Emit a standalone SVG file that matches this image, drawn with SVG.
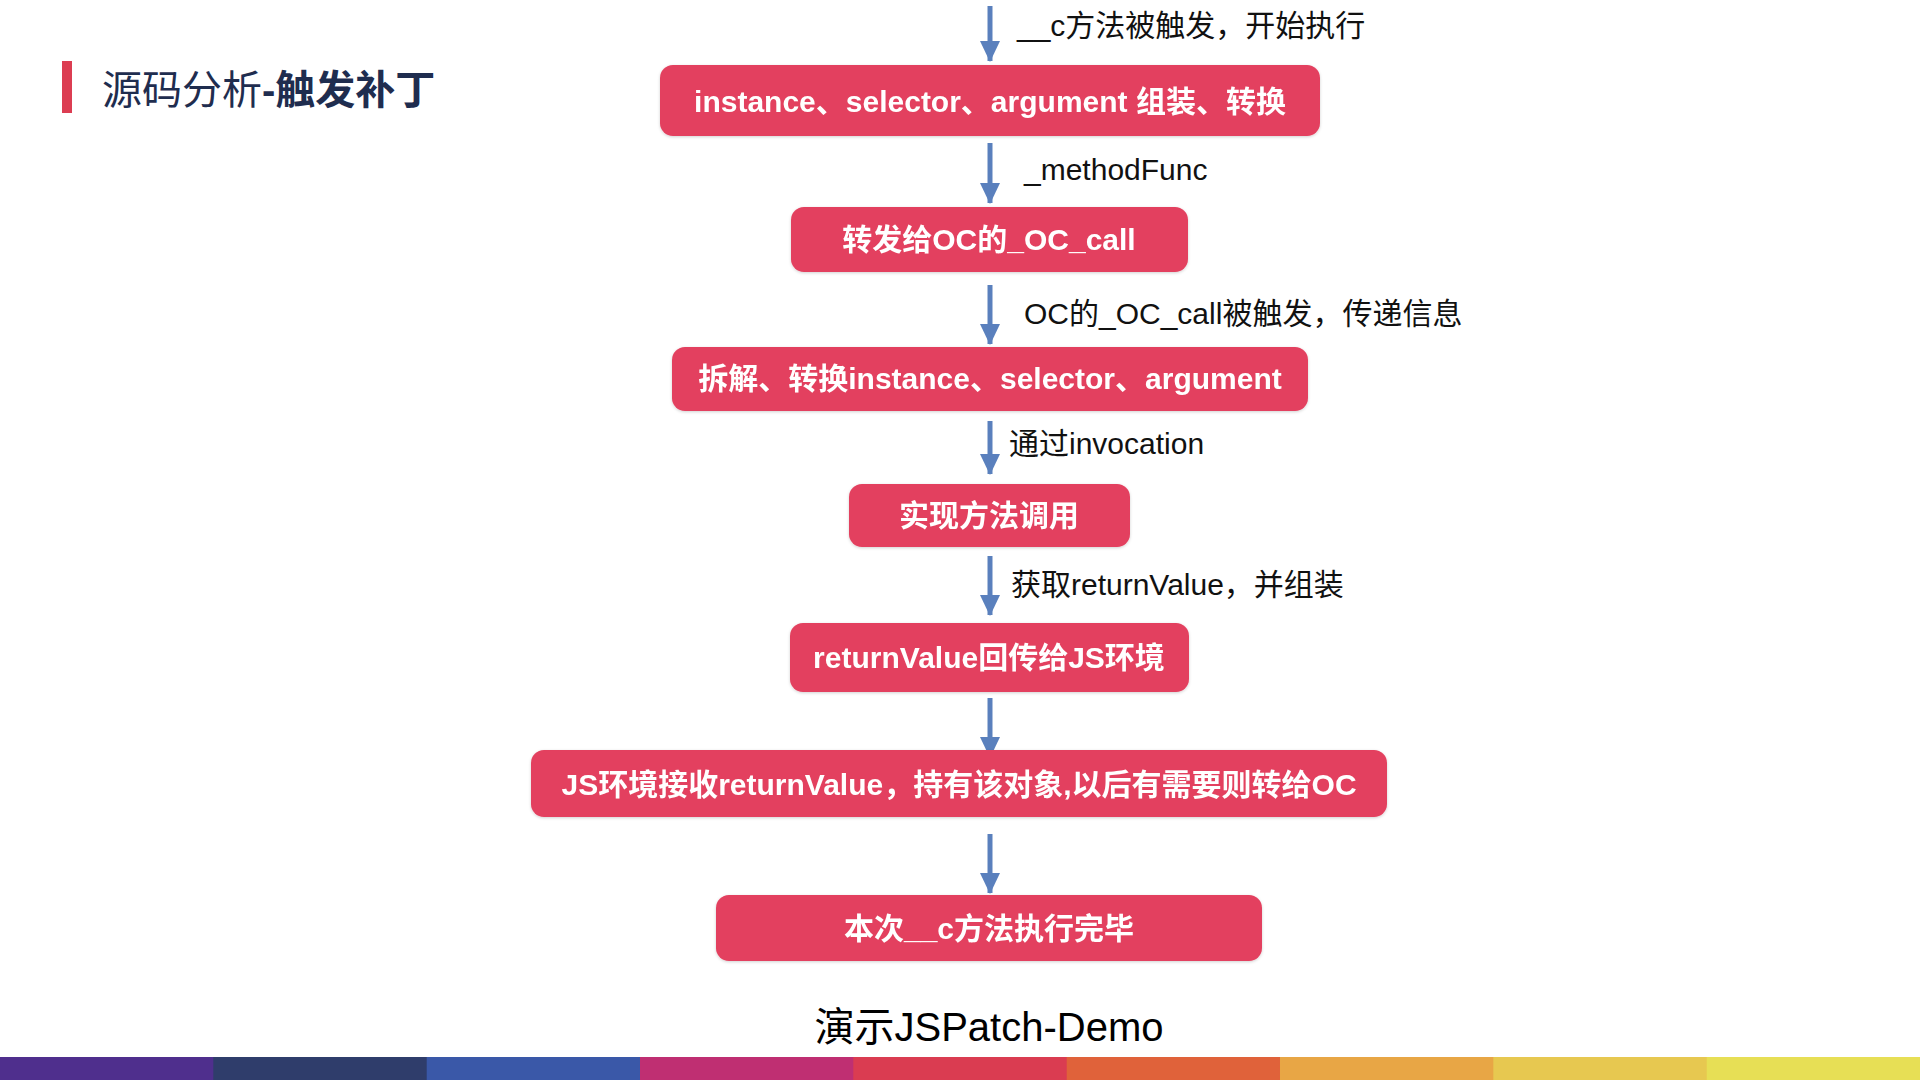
<svg xmlns="http://www.w3.org/2000/svg" width="1920" height="1080" viewBox="0 0 1920 1080">
<defs>
<style>
.box{fill:#e3405e;}
.bt{font-family:"Liberation Sans","Noto Sans CJK SC",sans-serif;font-weight:bold;font-size:30px;fill:#ffffff;text-anchor:middle;}
.lbl{font-family:"Liberation Sans","Noto Sans CJK SC",sans-serif;font-size:30px;fill:#111111;}
.conn line{stroke:#5a80bd;stroke-width:5;}
</style>
<marker id="ah2" markerUnits="userSpaceOnUse" markerWidth="21" markerHeight="20" refX="20" refY="10" orient="auto" viewBox="0 0 21 20">
<path d="M0,0 L21,10 L0,20 Z" fill="#5a80bd"/>
</marker>
<filter id="sh" x="-5%" y="-20%" width="110%" height="140%">
<feDropShadow dx="0" dy="1" stdDeviation="1.5" flood-color="#000" flood-opacity="0.18"/>
</filter>
</defs>
<rect width="1920" height="1080" fill="#ffffff"/>

<g id="title">
<rect x="62" y="61" width="10" height="52" fill="#dc3d52"/>
<text x="102" y="104" font-family="Liberation Sans,'Noto Sans CJK SC',sans-serif" font-size="40" fill="#1f2d4f">源码分析<tspan font-weight="bold">-触发补丁</tspan></text>
</g>

<g id="connectors" class="conn">
<line x1="990" y1="6" x2="990" y2="61" marker-end="url(#ah2)"/>
<line x1="990" y1="143" x2="990" y2="203" marker-end="url(#ah2)"/>
<line x1="990" y1="285" x2="990" y2="344" marker-end="url(#ah2)"/>
<line x1="990" y1="421" x2="990" y2="474" marker-end="url(#ah2)"/>
<line x1="990" y1="556" x2="990" y2="615" marker-end="url(#ah2)"/>
<line x1="990" y1="698" x2="990" y2="757" marker-end="url(#ah2)"/>
<line x1="990" y1="834" x2="990" y2="893" marker-end="url(#ah2)"/>
</g>

<g id="labels">
<text class="lbl" x="1017" y="36">__c方法被触发，开始执行</text>
<text class="lbl" x="1024" y="180">_methodFunc</text>
<text class="lbl" x="1024" y="324">OC的_OC_call被触发，传递信息</text>
<text class="lbl" x="1009" y="454">通过invocation</text>
<text class="lbl" x="1011" y="595">获取returnValue，并组装</text>
</g>

<g id="n1" filter="url(#sh)">
<rect class="box" x="660" y="65" width="660" height="71" rx="13"/>
<text class="bt" x="990" y="112">instance、selector、argument 组装、转换</text>
</g>
<g id="n2" filter="url(#sh)">
<rect class="box" x="791" y="207" width="397" height="65" rx="13"/>
<text class="bt" x="989" y="250">转发给OC的_OC_call</text>
</g>
<g id="n3" filter="url(#sh)">
<rect class="box" x="672" y="347" width="636" height="64" rx="13"/>
<text class="bt" x="990" y="389">拆解、转换instance、selector、argument</text>
</g>
<g id="n4" filter="url(#sh)">
<rect class="box" x="849" y="484" width="281" height="63" rx="13"/>
<text class="bt" x="989" y="526">实现方法调用</text>
</g>
<g id="n5" filter="url(#sh)">
<rect class="box" x="790" y="623" width="399" height="69" rx="13"/>
<text class="bt" x="989" y="668">returnValue回传给JS环境</text>
</g>
<g id="n6" filter="url(#sh)">
<rect class="box" x="531" y="750" width="856" height="67" rx="13"/>
<text class="bt" x="959" y="795">JS环境接收returnValue，持有该对象,以后有需要则转给OC</text>
</g>
<g id="n7" filter="url(#sh)">
<rect class="box" x="716" y="895" width="546" height="66" rx="13"/>
<text class="bt" x="989" y="939">本次__c方法执行完毕</text>
</g>

<text id="demo" x="989" y="1041" text-anchor="middle" font-family="Liberation Sans,'Noto Sans CJK SC',sans-serif" font-size="40" fill="#000000">演示JSPatch-Demo</text>

<g id="bottom-bar">
<rect x="0" y="1057" width="214" height="23" fill="#4f2f8d"/>
<rect x="213.3" y="1057" width="214" height="23" fill="#2f3d6b"/>
<rect x="426.7" y="1057" width="214" height="23" fill="#3a58a8"/>
<rect x="640" y="1057" width="214" height="23" fill="#bf2f72"/>
<rect x="853.3" y="1057" width="214" height="23" fill="#da3c51"/>
<rect x="1066.7" y="1057" width="214" height="23" fill="#e0623a"/>
<rect x="1280" y="1057" width="214" height="23" fill="#e8a645"/>
<rect x="1493.3" y="1057" width="214" height="23" fill="#e7c850"/>
<rect x="1706.7" y="1057" width="214" height="23" fill="#e7df55"/>
</g>
</svg>
